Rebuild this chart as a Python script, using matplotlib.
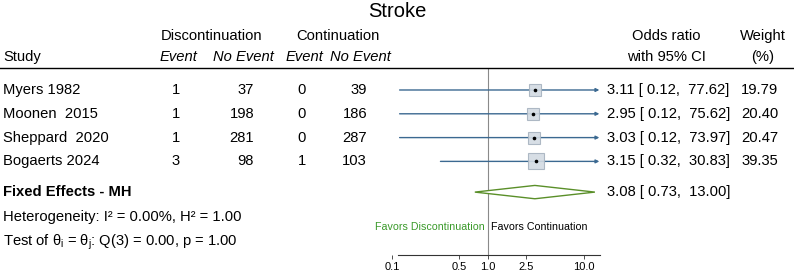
import numpy as np
import matplotlib
matplotlib.use('Agg')
import matplotlib.pyplot as plt
from matplotlib.transforms import blended_transform_factory
from matplotlib.lines import Line2D
from matplotlib.patches import Polygon

plt.rcParams['font.family'] = ['Liberation Sans', 'DejaVu Sans']
plt.rcParams['mathtext.fontset'] = 'custom'
plt.rcParams['mathtext.rm'] = 'Liberation Sans'
plt.rcParams['mathtext.it'] = 'Liberation Sans'
plt.rcParams['mathtext.bf'] = 'Liberation Sans:bold'

# data
studies = ['Myers 1982', 'Moonen  2015', 'Sheppard  2020', 'Bogaerts 2024']
disc_event = [1, 1, 1, 3]
disc_noevent = [37, 198, 281, 98]
cont_event = [0, 0, 0, 1]
cont_noevent = [39, 186, 287, 103]
odds = [3.11, 2.95, 3.03, 3.15]
ci_lo = [0.12, 0.12, 0.12, 0.32]
ci_hi = [77.62, 75.62, 73.97, 30.83]
weights = [19.79, 20.40, 20.47, 39.35]
pooled = 3.08
pooled_lo = 0.73
pooled_hi = 13.00
xticks = [0.1, 0.5, 1.0, 2.5, 10.0]
xticklabels = ['0.1', '0.5', '1.0', '2.5', '10.0']

line_col = '#3b6991'
sq_face = '#d3dbe3'
sq_edge = '#a7b3bf'
dia_col = '#5a8f29'
fav_col = '#3a9a2a'
fs = 10.6

W, H = 794, 274
fig = plt.figure(figsize=(W / 100, H / 100), dpi=100)
# forest axis: 0.1 at 392px, 14.7 at 600px, top 68px, bottom 255px
ax = fig.add_axes([392 / W, (H - 255) / H, 208 / W, 187 / H])
ax.set_xscale('log')
xmax = 14.7
ax.set_xlim(0.1, xmax)
ax.set_ylim(6.933, -0.924)

for s in ['top', 'right', 'left']:
    ax.spines[s].set_visible(False)
ax.spines['bottom'].set_bounds(0.1155, xmax)
ax.spines['bottom'].set_linewidth(0.8)
ax.spines['bottom'].set_color('#333333')
ax.set_yticks([])
ax.set_xticks(xticks)
ax.set_xticklabels(xticklabels)
ax.minorticks_off()
ax.tick_params(axis='x', direction='out', length=3, width=0.6, labelsize=8, pad=2, colors='#333333')
for lab in ax.get_xticklabels():
    lab.set_color('black')

ax.axvline(1.0, color='#8a8a8a', lw=0.8, zorder=1)

rows = np.arange(len(studies))
for r, est, lo, hi, w in zip(rows, odds, ci_lo, ci_hi, weights):
    end = min(hi, xmax * 0.985)
    if hi > xmax:
        ax.annotate('', xy=(end, r), xytext=(lo, r),
                    arrowprops=dict(arrowstyle='-|>', mutation_scale=5, color=line_col,
                                    lw=1.0, shrinkA=0, shrinkB=0), zorder=2)
    else:
        ax.plot([lo, hi], [r, r], color=line_col, lw=1.0, zorder=2)
    ax.plot(est, r, marker='s', ms=8.6 * (w / 19.79) ** (1 / 3), mfc=sq_face, mec=sq_edge,
            mew=0.8, zorder=3, alpha=0.9)
    ax.plot(est, r, marker='o', ms=1.6, color='black', zorder=4)

y_sum = 4.29
dh = 0.28
dia = Polygon([(pooled_lo, y_sum), (pooled, y_sum - dh), (pooled_hi, y_sum), (pooled, y_sum + dh)],
              closed=True, facecolor='white', edgecolor=dia_col, lw=1.0, zorder=3)
ax.add_patch(dia)

ax.text(0.93, 5.76, 'Favors Discontinuation', ha='right', va='center', fontsize=7.7, color=fav_col)
ax.text(1.07, 5.76, 'Favors Continuation', ha='left', va='center', fontsize=7.7, color='black')

# text columns
tr = blended_transform_factory(fig.transFigure, ax.transData)

def put(xpx, y, s, **kw):
    ax.text(xpx / W, y, s, transform=tr, clip_on=False, va='center', fontsize=kw.pop('fontsize', fs), **kw)

put(397, -3.28, 'Stroke', ha='center', fontsize=14.5)
put(212, -2.27, 'Discontinuation', ha='center')
put(338, -2.27, 'Continuation', ha='center')
put(666, -2.27, 'Odds ratio', ha='center')
put(763, -2.27, 'Weight', ha='center')
put(3, -1.39, 'Study', ha='left')
put(178, -1.39, 'Event', ha='center', style='italic')
put(243, -1.39, 'No Event', ha='center', style='italic')
put(304, -1.39, 'Event', ha='center', style='italic')
put(360, -1.39, 'No Event', ha='center', style='italic')
put(666, -1.39, 'with 95% CI', ha='center')
put(763, -1.39, '(%)', ha='center')

fig.add_artist(Line2D([0, 1], [(H - 68) / H] * 2, color='black', lw=1.0, transform=fig.transFigure))

for r in rows:
    put(3, r, studies[r], ha='left')
    put(176, r, str(disc_event[r]), ha='center')
    put(254, r, str(disc_noevent[r]), ha='right')
    put(302, r, str(cont_event[r]), ha='center')
    put(367, r, str(cont_noevent[r]), ha='right')
    put(607, r, '%.2f [ %.2f,  %.2f]' % (odds[r], ci_lo[r], ci_hi[r]), ha='left')
    put(778, r, '%.2f' % weights[r], ha='right')

put(607, y_sum, '%.2f [ %.2f,  %.2f]' % (pooled, pooled_lo, pooled_hi), ha='left')
put(3, y_sum, 'Fixed Effects - MH', ha='left', weight='bold')
put(3, 5.34, 'Heterogeneity: I\u00b2 = 0.00%, H\u00b2 = 1.00', ha='left')
put(3, 6.39, r'Test of $\theta_i$ = $\theta_j$: Q(3) = 0.00, p = 1.00', ha='left')

fig.savefig('out.png', dpi=100)
